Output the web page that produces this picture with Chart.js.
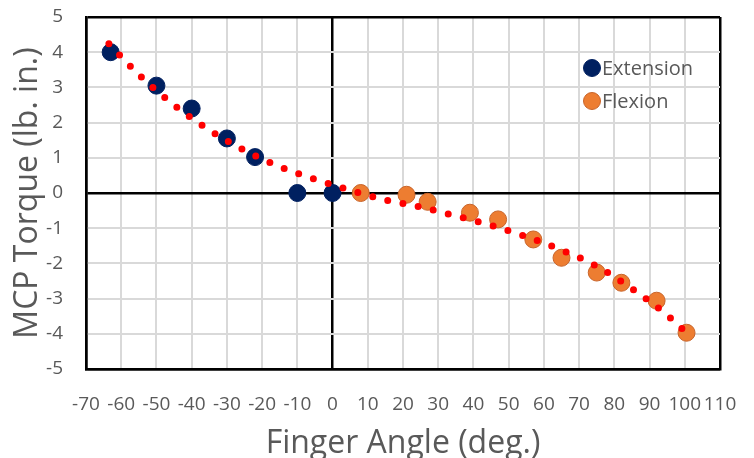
<!DOCTYPE html>
<html>
<head>
<meta charset="utf-8">
<script src="https://cdn.jsdelivr.net/npm/chart.js@4.4.0/dist/chart.umd.min.js"></script>
<style>
  html, body { margin: 0; padding: 0; background: #fff; }
  #wrap { width: 754px; height: 458px; position: relative; }
</style>
</head>
<body>
<div id="wrap"><canvas id="torqueChart"></canvas></div>
<script>
// values
const extensionAngle = [-63, -50, -40, -30, -22, -10, 0];
const extensionTorque = [4.0, 3.05, 2.4, 1.55, 1.02, 0, 0];
const flexionAngle = [8, 21, 27, 39, 47, 57, 65, 75, 82, 92, 100.5];
const flexionTorque = [0.0, -0.05, -0.25, -0.56, -0.75, -1.32, -1.84, -2.26, -2.55, -3.06, -3.97];
// dotted trend line, sampled along the curve in the picture
const trendAngle = [-63.5, -55, -45, -35, -25, -15, -5, 5, 15, 25, 35, 45, 55, 65, 75, 85, 95, 101];
const trendTorque = [4.24, 3.36, 2.5, 1.79, 1.21, 0.75, 0.39, 0.08, -0.2, -0.4, -0.65, -0.92, -1.24, -1.62, -2.08, -2.72, -3.47, -4.02];
const xTicks = [-70, -60, -50, -40, -30, -20, -10, 0, 10, 20, 30, 40, 50, 60, 70, 80, 90, 100, 110];
const yTicks = [-5, -4, -3, -2, -1, 0, 1, 2, 3, 4, 5];

const toPoints = (xs, ys) => xs.map((x, i) => ({ x: x, y: ys[i] }));

const gray = '#595959';
const tickFont = { family: "'Open Sans', sans-serif", size: 19, lineHeight: 1.2 };
const titleFont = { family: "'Open Sans', sans-serif", size: 32, lineHeight: 0.9 };

// grid: black frame and zero lines, light gray elsewhere
function gridColor(ctx, min, max) {
  const v = ctx.tick ? ctx.tick.value : null;
  return (v === 0 || v === min || v === max) ? '#000' : '#D9D9D9';
}
function gridWidth(ctx, min, max) {
  const v = ctx.tick ? ctx.tick.value : null;
  return (v === 0 || v === min || v === max) ? 2.5 : 2;
}

// drop the label overflow padding so layout.padding alone sets the plot box
function noOverflow(s) {
  s.paddingLeft = 0;
  s.paddingRight = 0;
  s.paddingTop = 0;
  s.paddingBottom = 0;
}

// legend drawn inside the plot, upper right
const insideLegend = {
  id: 'insideLegend',
  afterDatasetsDraw(chart) {
    const ctx = chart.ctx;
    const items = [
      { label: 'Extension', fill: '#002060', stroke: '#002060', y: 68 },
      { label: 'Flexion', fill: '#ED7D31', stroke: '#C8642A', y: 101 }
    ];
    ctx.save();
    ctx.font = "20px 'Open Sans', sans-serif";
    ctx.textBaseline = 'middle';
    ctx.textAlign = 'left';
    items.forEach(it => {
      ctx.beginPath();
      ctx.arc(592, it.y, 8.5, 0, Math.PI * 2);
      ctx.fillStyle = it.fill;
      ctx.fill();
      ctx.lineWidth = 1;
      ctx.strokeStyle = it.stroke;
      ctx.stroke();
      ctx.fillStyle = gray;
      ctx.fillText(it.label, 602, it.y + 1);
    });
    ctx.restore();
  }
};

const chart = new Chart(document.getElementById('torqueChart'), {
  type: 'scatter',
  data: {
    datasets: [
      {
        label: 'Trend',
        type: 'line',
        data: toPoints(trendAngle, trendTorque),
        borderColor: '#FF0000',
        borderWidth: 7,
        borderDash: [0, 15.5],
        borderCapStyle: 'round',
        cubicInterpolationMode: 'monotone',
        pointRadius: 0,
        fill: false,
        order: 0
      },
      {
        label: 'Extension',
        data: toPoints(extensionAngle, extensionTorque),
        backgroundColor: '#002060',
        borderColor: '#002060',
        borderWidth: 1,
        pointRadius: 8.5,
        order: 1
      },
      {
        label: 'Flexion',
        data: toPoints(flexionAngle, flexionTorque),
        backgroundColor: '#ED7D31',
        borderColor: '#C8642A',
        borderWidth: 1,
        pointRadius: 8.5,
        order: 1
      }
    ]
  },
  options: {
    responsive: true,
    maintainAspectRatio: false,
    animation: false,
    layout: { padding: { left: 0, right: 34, top: 17, bottom: 0 } },
    plugins: {
      legend: { display: false },
      tooltip: { enabled: false }
    },
    scales: {
      x: {
        type: 'linear',
        min: xTicks[0],
        max: xTicks[xTicks.length - 1],
        afterBuildTicks: s => { s.ticks = xTicks.map(v => ({ value: v })); },
        afterFit: s => { s.height = 89; noOverflow(s); },
        ticks: { color: gray, font: tickFont, padding: 24, autoSkip: false, maxRotation: 0 },
        grid: {
          drawTicks: false,
          color: c => gridColor(c, -70, 110),
          lineWidth: c => gridWidth(c, -70, 110)
        },
        border: { color: '#000', width: 2.5 },
        title: { display: true, text: 'Finger Angle (deg.)', color: gray, font: titleFont, padding: { top: 0, bottom: 0 } }
      },
      y: {
        type: 'linear',
        min: yTicks[0],
        max: yTicks[yTicks.length - 1],
        afterBuildTicks: s => { s.ticks = yTicks.map(v => ({ value: v })); },
        afterFit: s => { s.width = 86; noOverflow(s); },
        ticks: { color: gray, font: tickFont, padding: 23 },
        grid: {
          drawTicks: false,
          color: c => gridColor(c, -5, 5),
          lineWidth: c => gridWidth(c, -5, 5)
        },
        border: { color: '#000', width: 2.5 },
        title: { display: true, text: 'MCP Torque (lb. in.)', color: gray, font: titleFont, padding: { top: 13, bottom: 0 } }
      }
    }
  },
  plugins: [insideLegend]
});
</script>
</body>
</html>
